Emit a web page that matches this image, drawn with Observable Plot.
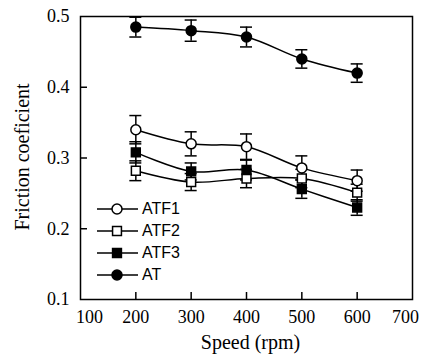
<!DOCTYPE html>
<html><head><meta charset="utf-8">
<script src="https://cdn.jsdelivr.net/npm/d3@7"></script>
<script src="https://cdn.jsdelivr.net/npm/@observablehq/plot@0.6"></script>
<style>
body{margin:0;background:#fff}
#wrap{position:relative;width:422px;height:356px}
#legend{position:absolute;left:97px;top:198px;font-family:"Liberation Sans",Arial,sans-serif;font-size:16px;color:#000}
.row{display:flex;align-items:center;height:21.9px}
.row span{margin-left:3px}
#ylabel{position:absolute;left:22px;top:157px;transform:translate(-50%,-50%) rotate(-90deg);white-space:nowrap;font-family:"Liberation Serif","Times New Roman",serif;font-size:20px;color:#000}
</style>
</head><body><div id="wrap"><div id="legend"></div><div id="ylabel"></div></div>
<script>
const speeds = [200, 300, 400, 500, 600];
const seriesNames = ["ATF1", "ATF2", "ATF3", "AT"];
const atf1 = [0.340, 0.320, 0.316, 0.286, 0.268];
const atf1Err = [0.020, 0.017, 0.018, 0.017, 0.015];
const atf2 = [0.282, 0.266, 0.271, 0.271, 0.251];
const atf2Err = [0.014, 0.012, 0.013, 0.013, 0.012];
const atf3 = [0.308, 0.281, 0.283, 0.256, 0.230];
const atf3Err = [0.015, 0.012, 0.014, 0.013, 0.011];
const at = [0.485, 0.480, 0.471, 0.440, 0.420];
const atErr = [0.014, 0.015, 0.014, 0.013, 0.013];
const xTicks = [100, 200, 300, 400, 500, 600, 700];
const yTicks = [0.1, 0.2, 0.3, 0.4, 0.5];
const xLabel = "Speed (rpm)";
const yLabel = "Friction coeficient";

const seriesVals = [atf1, atf2, atf3, at];
const seriesErrs = [atf1Err, atf2Err, atf3Err, atErr];
const symbols = {ATF1: "circle", ATF2: "square", ATF3: "square", AT: "circle"};
const openSeries = new Set(["ATF1", "ATF2"]);

const data = [];
seriesNames.forEach((s, i) => speeds.forEach((x, j) => data.push({series: s, x, v: seriesVals[i][j], e: seriesErrs[i][j]})));

const plot = Plot.plot({
  width: 422, height: 356,
  marginLeft: 80, marginRight: 10, marginTop: 16, marginBottom: 57,
  style: {fontFamily: "'Liberation Serif', 'Times New Roman', serif", background: "#fff", color: "#000", overflow: "visible"},
  x: {domain: [100, 700], ticks: xTicks},
  y: {domain: [0.1, 0.5], ticks: yTicks},
  symbol: {domain: seriesNames, range: seriesNames.map(s => symbols[s])},
  marks: [
    Plot.axisX({ticks: xTicks.slice(1, -1), tickSize: -7, text: null, label: null, strokeWidth: 1.5}),
    Plot.axisX({ticks: xTicks.slice(1, -1), tickSize: 0, tickPadding: 11, fontSize: 18, label: null}),
    Plot.axisX({ticks: xTicks.slice(0, 1), tickSize: 0, tickPadding: 11, fontSize: 18, label: null, dx: 9}),
    Plot.axisX({ticks: xTicks.slice(-1), tickSize: 0, tickPadding: 11, fontSize: 18, label: null, dx: -7}),
    Plot.axisY({ticks: yTicks.slice(1, -1), tickSize: -7, text: null, label: null, strokeWidth: 1.5}),
    Plot.axisY({ticks: yTicks, tickSize: 0, tickPadding: 11, fontSize: 18, tickFormat: d3.format(".1f"), label: null}),
    Plot.text([xLabel], {frameAnchor: "bottom", dy: 49, fontSize: 20, dx: 4}),
    Plot.frame({stroke: "black", strokeWidth: 1.5}),
    Plot.line(data, {x: "x", y: "v", z: "series", curve: "catmull-rom", stroke: "black", strokeWidth: 1.5}),
    Plot.ruleX(data, {x: "x", y1: d => d.v - d.e, y2: d => d.v + d.e, stroke: "black", strokeWidth: 1.5}),
    Plot.ruleY(data, {y: d => d.v + d.e, x1: "x", x2: "x", insetLeft: -6, insetRight: -6, stroke: "black", strokeWidth: 1.5}),
    Plot.ruleY(data, {y: d => d.v - d.e, x1: "x", x2: "x", insetLeft: -6, insetRight: -6, stroke: "black", strokeWidth: 1.5}),
    Plot.dot(data.filter(d => openSeries.has(d.series)), {x: "x", y: "v", symbol: "series", r: 5, fill: "white", stroke: "black", strokeWidth: 1.5}),
    Plot.dot(data.filter(d => !openSeries.has(d.series)), {x: "x", y: "v", symbol: "series", r: 5, fill: "black", stroke: "black", strokeWidth: 1.5})
  ]
});
const wrap = document.getElementById("wrap");
wrap.insertBefore(plot, wrap.firstChild);
document.getElementById("ylabel").textContent = yLabel;

const legend = d3.select("#legend");
seriesNames.forEach(s => {
  const row = legend.append("div").attr("class", "row");
  const svg = row.append("svg").attr("width", 42).attr("height", 14);
  svg.append("line").attr("x1", 0).attr("x2", 41).attr("y1", 7).attr("y2", 7).attr("stroke", "black").attr("stroke-width", 1.5);
  const sym = symbols[s] === "circle" ? d3.symbolCircle : d3.symbolSquare;
  svg.append("path").attr("d", d3.symbol(sym, Math.PI * 25)()).attr("transform", "translate(20,7)")
    .attr("fill", openSeries.has(s) ? "white" : "black").attr("stroke", "black").attr("stroke-width", 1.5);
  row.append("span").text(s);
});
</script>
</body></html>
